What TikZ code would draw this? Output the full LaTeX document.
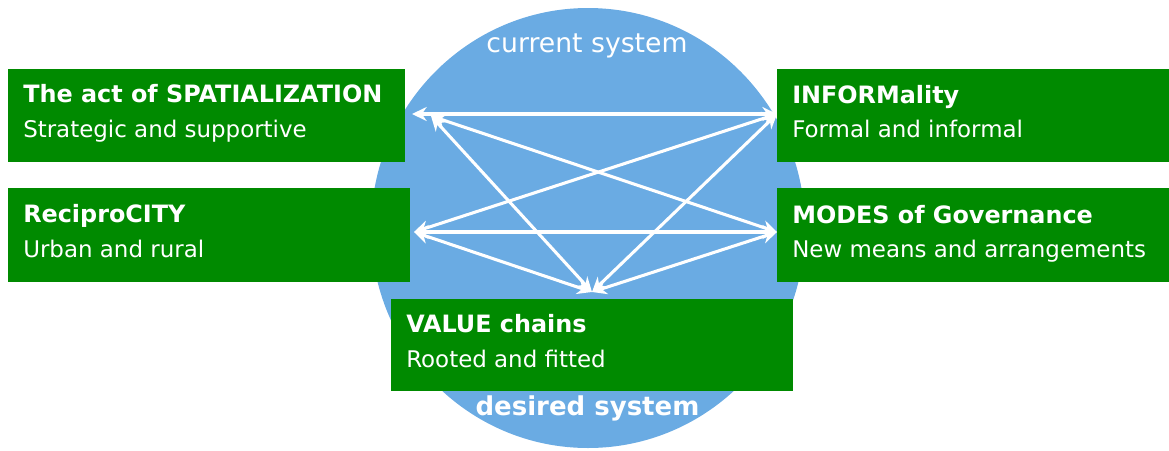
\documentclass[tikz,border=0pt]{standalone}
\usepackage{fontspec}
\setmainfont{DejaVu Sans}
\usetikzlibrary{arrows.meta,calc}
\definecolor{boxgreen}{HTML}{008A00}
\definecolor{sysblue}{HTML}{6AABE3}
\begin{document}
\begin{tikzpicture}[x=0.75pt,y=-0.75pt,
  gbox/.style={fill=boxgreen, draw=none, inner sep=0pt, outer sep=0pt, anchor=north west},
  ttl/.style={anchor=base west, text=white, font=\bfseries\fontsize{17.9}{20}\selectfont, inner sep=0pt},
  sub/.style={anchor=base west, text=white, font=\fontsize{17.2}{20}\selectfont, inner sep=0pt},
  sys/.style={anchor=base, text=white, inner sep=0pt},
  link/.style={draw=white, line width=2.3pt, {Stealth[length=11pt,width=10.5pt]}-{Stealth[length=11pt,width=10.5pt]}}]
\useasboundingbox (0,0) rectangle (1169,450);
\fill[sysblue] (588,228) ellipse [x radius=162.75pt, y radius=165pt];
\node[sys, font=\fontsize{20}{24}\selectfont] (cur) at (587,52) {current system};
\node[sys, font=\bfseries\fontsize{19.5}{24}\selectfont] (des) at (587.5,415) {desired system};
% boxes
\node[gbox, minimum width=297.75pt, minimum height=69.75pt] (b1) at (8,69) {};
\node[gbox, minimum width=301.5pt, minimum height=70.5pt] (b2) at (8,188) {};
\node[gbox, minimum width=294pt, minimum height=69.75pt] (b3) at (777,69) {};
\node[gbox, minimum width=294pt, minimum height=70.5pt] (b4) at (777,188) {};
\node[gbox, minimum width=301.5pt, minimum height=69pt] (b5) at (391,299) {};
% texts
\node[ttl] (t1) at ($(b1.north west)+(15,33)$) {The act of SPATIALIZATION};
\node[sub] (s1) at ($(b1.north west)+(15,68)$) {Strategic and supportive};
\node[ttl] (t2) at ($(b2.north west)+(15,34)$) {ReciproCITY};
\node[sub] (s2) at ($(b2.north west)+(15,69)$) {Urban and rural};
\node[ttl] (t3) at ($(b3.north west)+(15,34)$) {INFORMality};
\node[sub] (s3) at ($(b3.north west)+(15,68)$) {Formal and informal};
\node[ttl] (t4) at ($(b4.north west)+(15,35)$) {MODES of Governance};
\node[sub] (s4) at ($(b4.north west)+(15,69)$) {New means and arrangements};
\node[ttl] (t5) at ($(b5.north west)+(15,33)$) {VALUE chains};
\node[sub] (s5) at ($(b5.north west)+(15,68)$) {Rooted and fitted};
% connector ends
\coordinate (a1) at (412,114);
\coordinate (a1b) at (431,116);
\coordinate (a2) at (414,232);
\coordinate (a3) at (777,114);
\coordinate (a4) at (777,232);
\coordinate (a5) at (592,292);
% connectors
\draw[link] (a1) -- (a3);
\draw[link] (a1b) -- (a4);
\draw[link] (a1b) -- (a5);
\draw[link] (a2) -- (a3);
\draw[link] (a2) -- (a4);
\draw[link] (a2) -- (a5);
\draw[link] (a3) -- (a5);
\draw[link] (a4) -- (a5);
\end{tikzpicture}
\end{document}
